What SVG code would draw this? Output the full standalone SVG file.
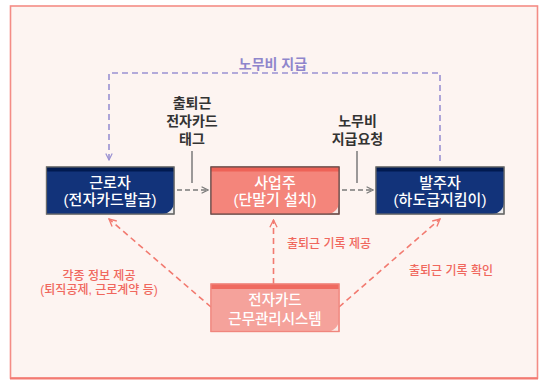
<svg xmlns="http://www.w3.org/2000/svg" width="539" height="380" viewBox="0 0 539 380">
<defs>
<style>
text{font-family:"Liberation Sans","Noto Sans CJK KR",sans-serif;text-anchor:middle}
.nt{fill:#ffffff;font-size:15px;font-weight:500}
.st{fill:#ffffff;font-size:14.5px;font-weight:500}
.lbl{fill:#333333;font-size:14px;font-weight:700}
.rl{fill:#f0675d;font-size:12px;font-weight:500}
.pl{fill:#8f86cc;font-size:14px;font-weight:700}
.gd{stroke:#7a7a7a;stroke-width:1.5;stroke-dasharray:5 3;fill:none}
.gs{stroke:#7a7a7a;stroke-width:1.5;fill:none}
.pd{stroke:#9a91d2;stroke-width:1.6;stroke-dasharray:6 4;fill:none}
.rd{stroke:#f27a70;stroke-width:1.6;stroke-dasharray:6 4;fill:none}
</style>
<marker id="ag" viewBox="0 0 10 10" refX="9" refY="5" markerWidth="8" markerHeight="8" markerUnits="userSpaceOnUse" orient="auto"><path d="M1,1 L9,5 L1,9" fill="none" stroke="#7a7a7a" stroke-width="1.5"/></marker>
<marker id="ap" viewBox="0 0 10 10" refX="9" refY="5" markerWidth="8" markerHeight="8" markerUnits="userSpaceOnUse" orient="auto"><path d="M1,1 L9,5 L1,9" fill="none" stroke="#9a91d2" stroke-width="1.5"/></marker>
<marker id="ar" viewBox="0 0 10 10" refX="9" refY="5" markerWidth="9" markerHeight="9" markerUnits="userSpaceOnUse" orient="auto"><path d="M1,1 L9,5 L1,9" fill="none" stroke="#f27a70" stroke-width="1.5"/></marker>
</defs>
<rect x="10.5" y="6" width="527" height="372" fill="#fdf4f1" stroke="#f48c85" stroke-width="1.6"/>
<line x1="10" y1="378.5" x2="538" y2="378.5" stroke="#f37a72" stroke-width="2"/>

<g id="connectors">
<path class="pd" d="M440,161 V73 H109 V160" marker-end="url(#ap)"/>
<line class="gs" x1="192" y1="151" x2="192" y2="183"/>
<line class="gs" x1="357" y1="151" x2="357" y2="183"/>
<line class="gd" x1="177" y1="190" x2="208" y2="190" marker-end="url(#ag)"/>
<line class="gd" x1="342" y1="190" x2="373" y2="190" marker-end="url(#ag)"/>
<line class="rd" x1="273.5" y1="284" x2="273.5" y2="220" marker-end="url(#ar)"/>
<line class="rd" x1="211" y1="307" x2="109" y2="219" marker-end="url(#ar)"/>
<line class="rd" x1="339" y1="307" x2="440" y2="219" marker-end="url(#ar)"/>
</g>

<g id="labels">
<text class="pl" x="273" y="69">노무비 지급</text>
<text class="lbl" x="192" y="108">출퇴근<tspan x="192" dy="18">전자카드</tspan><tspan x="192" dy="18">태그</tspan></text>
<text class="lbl" x="357.5" y="126">노무비<tspan x="357.5" dy="18">지급요청</tspan></text>
<text class="rl" x="329" y="248">출퇴근 기록 제공</text>
<text class="rl" x="451" y="275">출퇴근 기록 확인</text>
<text class="rl" x="99" y="280">각종 정보 제공<tspan x="99" dy="14">(퇴직공제, 근로계약 등)</tspan></text>
</g>

<g id="worker">
<rect x="46.5" y="167" width="127.5" height="47" fill="#ecebec" stroke="#6a6a6a" stroke-width="1.2"/>
<path d="M46.5,167 H174 V202 A12,12 0 0 1 162,214 H46.5 Z" fill="#12337a"/>
<rect x="46.5" y="167" width="127.5" height="4.5" fill="#011a50"/>
<rect x="46.5" y="167" width="127.5" height="47" fill="none" stroke="#6a6a6a" stroke-width="1.2"/>
<text class="nt" x="110" y="188">근로자<tspan x="110" dy="17">(전자카드발급)</tspan></text>
</g>

<g id="employer">
<rect x="211" y="167" width="128" height="47" fill="#f5e6e3" stroke="#6b4c49" stroke-width="1.2"/>
<path d="M211,167 H339 V202 A12,12 0 0 1 327,214 H211 Z" fill="#f4857b"/>
<rect x="211" y="167" width="128" height="4.5" fill="#ee6257"/>
<rect x="211" y="167" width="128" height="47" fill="none" stroke="#6b4c49" stroke-width="1.2"/>
<text class="nt" x="275" y="188">사업주<tspan x="275" dy="17">(단말기 설치)</tspan></text>
</g>

<g id="orderer">
<rect x="376" y="167" width="128" height="47" fill="#ecebec" stroke="#6a6a6a" stroke-width="1.2"/>
<path d="M376,167 H504 V202 A12,12 0 0 1 492,214 H376 Z" fill="#12337a"/>
<rect x="376" y="167" width="128" height="4.5" fill="#011a50"/>
<rect x="376" y="167" width="128" height="47" fill="none" stroke="#6a6a6a" stroke-width="1.2"/>
<text class="nt" x="440" y="188">발주자<tspan x="440" dy="17">(하도급지킴이)</tspan></text>
</g>

<g id="system">
<rect x="211" y="284" width="128" height="47.5" fill="#fbe9e6" stroke="#f0857d" stroke-width="1.2"/>
<path d="M211,284 H339 V319.5 A12,12 0 0 1 327,331.5 H211 Z" fill="#f5a29b"/>
<rect x="211" y="284" width="128" height="5" fill="#ef6a60"/>
<rect x="211" y="284" width="128" height="47.5" fill="none" stroke="#f0857d" stroke-width="1.2"/>
<text class="st" x="275" y="305">전자카드<tspan x="275" dy="19">근무관리시스템</tspan></text>
</g>
</svg>
